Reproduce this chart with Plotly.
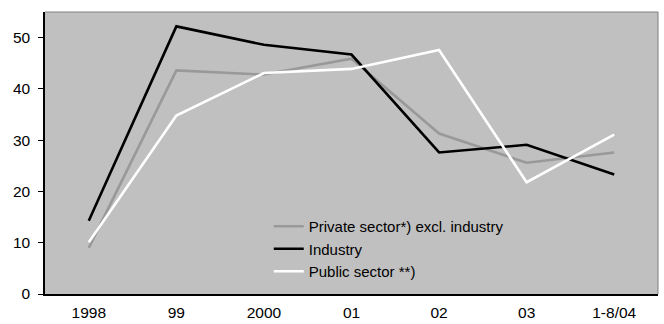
import plotly.graph_objects as go

# Periods on the horizontal axis
periods = ["1998", "99", "2000", "01", "02", "03", "1-8/04"]

# Series values (per cent)
private_excl_industry = [9.0, 43.6, 42.8, 45.9, 31.3, 25.6, 27.6]
industry = [14.3, 52.2, 48.6, 46.7, 27.6, 29.1, 23.3]
public_sector = [10.1, 34.8, 43.1, 43.9, 47.6, 21.8, 31.1]

series = [
    ("Private sector*) excl. industry", private_excl_industry, "#999999"),
    ("Industry", industry, "#000000"),
    ("Public sector **)", public_sector, "#ffffff"),
]

fig = go.Figure()
for name, values, color in series:
    fig.add_trace(go.Scatter(
        x=periods, y=values, name=name, mode="lines",
        line=dict(color=color, width=2.6),
    ))

font_family = "Liberation Sans, Arial, sans-serif"

fig.update_layout(
    width=664, height=324,
    margin=dict(l=45, r=6, t=12, b=30),
    paper_bgcolor="#ffffff",
    plot_bgcolor="#c0c0c0",
    font=dict(family=font_family, size=15.5, color="#000000"),
    showlegend=True,
    legend=dict(
        x=0.365, y=0.298, xanchor="left", yanchor="top",
        bgcolor="rgba(0,0,0,0)", borderwidth=0,
        font=dict(family=font_family, size=15, color="#000000"),
        tracegroupgap=0, itemclick=False,
    ),
    xaxis=dict(
        type="category", range=[-0.5, 6.5], automargin=False,
        showgrid=False, zeroline=False,
        showline=True, linecolor="#000000", linewidth=1.5,
        mirror=False, ticks="", ticklabelstandoff=4,
    ),
    yaxis=dict(
        range=[0, 55], tickvals=[0, 10, 20, 30, 40, 50], automargin=False,
        showgrid=False, zeroline=False,
        showline=True, linecolor="#000000", linewidth=1.5,
        ticks="outside", ticklen=5, tickcolor="#000000", tickwidth=1,
        ticklabelstandoff=5,
    ),
    shapes=[
        # thin grey frame on the top and right edges of the plot area
        dict(type="line", xref="paper", yref="paper", x0=0, x1=1, y0=1, y1=1,
             line=dict(color="#808080", width=1)),
        dict(type="line", xref="paper", yref="paper", x0=1, x1=1, y0=0, y1=1,
             line=dict(color="#808080", width=1)),
    ],
)

fig.write_html("out.html")
